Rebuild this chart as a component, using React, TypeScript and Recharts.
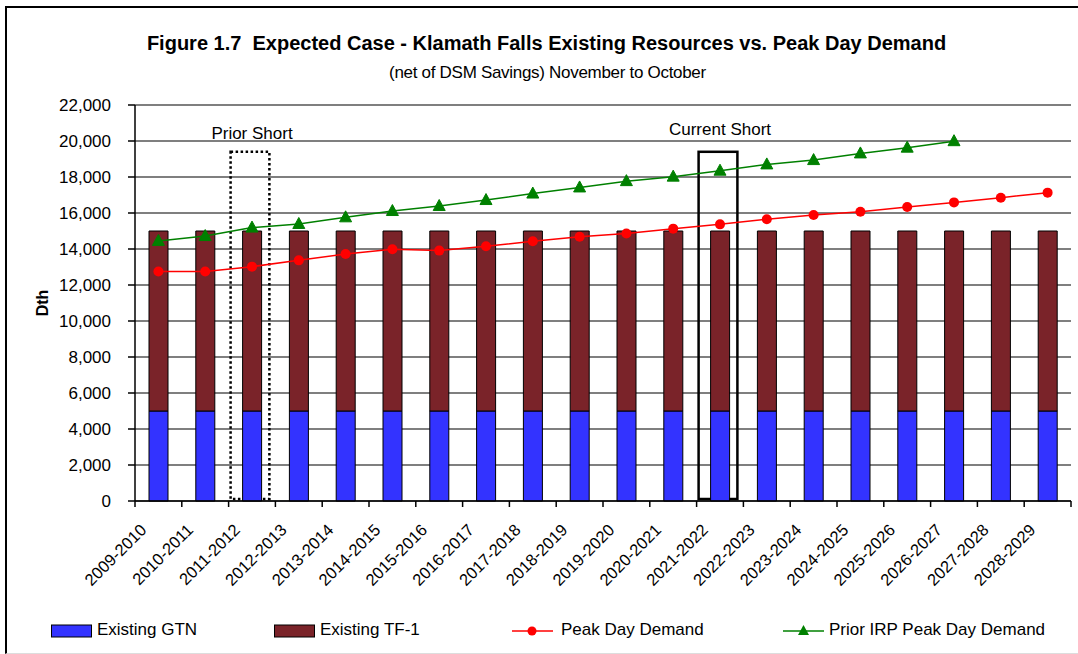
import React from 'react';
import {
  ComposedChart,
  Bar,
  Line,
  XAxis,
  YAxis,
  CartesianGrid,
  ReferenceArea,
  Label,
} from 'recharts';

const years = [
  '2009-2010', '2010-2011', '2011-2012', '2012-2013', '2013-2014',
  '2014-2015', '2015-2016', '2016-2017', '2017-2018', '2018-2019',
  '2019-2020', '2020-2021', '2021-2022', '2022-2023', '2023-2024',
  '2024-2025', '2025-2026', '2026-2027', '2027-2028', '2028-2029',
];

const existingGtn = [
  5000, 5000, 5000, 5000, 5000, 5000, 5000, 5000, 5000, 5000,
  5000, 5000, 5000, 5000, 5000, 5000, 5000, 5000, 5000, 5000,
];

const existingTf1 = [
  10000, 10000, 10000, 10000, 10000, 10000, 10000, 10000, 10000, 10000,
  10000, 10000, 10000, 10000, 10000, 10000, 10000, 10000, 10000, 10000,
];

const peakDayDemand = [
  12750, 12750, 13020, 13370, 13720, 13990, 13910, 14150, 14430, 14680,
  14860, 15130, 15370, 15650, 15890, 16070, 16330, 16590, 16850, 17130,
];

const priorIrpDemand = [
  14450, 14720, 15190, 15390, 15760, 16110, 16390, 16720, 17080, 17420,
  17770, 18020, 18350, 18700, 18940, 19310, 19630, 19990, null, null,
];

const yTicks = [0, 2000, 4000, 6000, 8000, 10000, 12000, 14000, 16000, 18000, 20000, 22000];

const priorShortYear = '2011-2012';
const currentShortYear = '2021-2022';
const shortBoxTop = 19400;

const data = years.map((year, i) => ({
  year,
  gtn: existingGtn[i],
  tf1: existingTf1[i],
  peak: peakDayDemand[i],
  prior: priorIrpDemand[i],
}));

const FONT = '"Liberation Sans", Arial, sans-serif';
const WIDTH = 1078;
const HEIGHT = 654;
const PLOT_LEFT = 135;
const PLOT_RIGHT = 1071;
const PLOT_TOP = 105;
const PLOT_BOTTOM = 501;
const STEP = (PLOT_RIGHT - PLOT_LEFT) / years.length;

const BLUE = '#3333FF';
const MAROON = '#7A2329';
const RED = '#FF0000';
const GREEN = '#008000';

const YearTick = (props: any) => {
  const { x, y, payload, index } = props;
  return (
    <g>
      <line x1={x - STEP / 2} y1={y} x2={x - STEP / 2} y2={y + 6} stroke="#000" strokeWidth={1.5} />
      {index === years.length - 1 && (
        <line x1={x + STEP / 2} y1={y} x2={x + STEP / 2} y2={y + 6} stroke="#000" strokeWidth={1.5} />
      )}
      <text
        x={x - 11}
        y={y + 30}
        textAnchor="end"
        transform={`rotate(-45, ${x - 11}, ${y + 30})`}
        fontSize={16.5}
        fontFamily={FONT}
        fill="#000"
      >
        {payload.value}
      </text>
    </g>
  );
};

const Triangle = (props: any) => {
  const { cx, cy, payload } = props;
  if (cx == null || cy == null || payload?.prior == null) return null;
  return (
    <polygon
      points={`${cx},${cy - 6.5} ${cx + 6},${cy + 4.5} ${cx - 6},${cy + 4.5}`}
      fill={GREEN}
      stroke={GREEN}
    />
  );
};

const ShortBox = (dashed: boolean) => (props: any) => {
  const { x, y, width, height } = props;
  return (
    <rect
      x={x + 2}
      y={y}
      width={width - 8}
      height={height - 2}
      fill="none"
      stroke="#000"
      strokeWidth={2.5}
      strokeDasharray={dashed ? '2.5 2.5' : undefined}
    />
  );
};

const DthLabel = (props: any) => {
  const { viewBox } = props;
  const cx = 42;
  const cy = viewBox.y + viewBox.height / 2;
  return (
    <text
      x={cx}
      y={cy}
      textAnchor="middle"
      dominantBaseline="central"
      transform={`rotate(-90, ${cx}, ${cy})`}
      fontSize={16}
      fontWeight="bold"
      fontFamily={FONT}
      fill="#000"
    >
      Dth
    </text>
  );
};

const legendItems = [
  { name: 'Existing GTN', kind: 'box', color: BLUE, left: 51, textLeft: 97 },
  { name: 'Existing TF-1', kind: 'box', color: MAROON, left: 274, textLeft: 320 },
  { name: 'Peak Day Demand', kind: 'dot', color: RED, left: 512, textLeft: 561 },
  { name: 'Prior IRP Peak Day Demand', kind: 'tri', color: GREEN, left: 783, textLeft: 829 },
];

const LegendIcon = ({ kind, color }: { kind: string; color: string }) => (
  <svg width={42} height={14} style={{ display: 'block' }}>
    {kind === 'box' && <rect x={0.5} y={1} width={40} height={12} fill={color} stroke="#000" strokeWidth={1} />}
    {kind !== 'box' && <line x1={0} y1={7} x2={41} y2={7} stroke={color} strokeWidth={1.5} />}
    {kind === 'dot' && <circle cx={20} cy={7} r={4.5} fill={color} />}
    {kind === 'tri' && <polygon points="20.5,1 26,11 15,11" fill={color} />}
  </svg>
);

const App: React.FC = () => {
  return (
    <div style={{ position: 'absolute', left: 0, top: 0, width: WIDTH, height: HEIGHT, background: '#fff', fontFamily: FONT, overflow: 'hidden' }}>
      {/* outer frame */}
      <div
        style={{
          position: 'absolute',
          left: 5,
          top: 6,
          width: WIDTH,
          height: 645,
          borderLeft: '2px solid #000',
          borderTop: '2px solid #000',
          borderBottom: '1px solid #ddd',
        }}
      />

      <div style={{ position: 'absolute', left: 0, width: 1093, top: 32, textAlign: 'center', fontSize: 20, fontWeight: 'bold', color: '#000', whiteSpace: 'pre' }}>
        {'Figure 1.7  Expected Case - Klamath Falls Existing Resources vs. Peak Day Demand'}
      </div>
      <div style={{ position: 'absolute', left: 0, width: 1095, top: 63, textAlign: 'center', fontSize: 17, color: '#000', letterSpacing: -0.3 }}>
        (net of DSM Savings) November to October
      </div>

      <div style={{ position: 'absolute', left: 0, top: 0 }}>
        <ComposedChart
          width={WIDTH}
          height={HEIGHT}
          data={data}
          margin={{ top: PLOT_TOP, right: WIDTH - PLOT_RIGHT, bottom: 0, left: 0 }}
          barSize={19}
        >
          <CartesianGrid vertical={false} stroke="#000" strokeWidth={1.2} />
          <XAxis
            dataKey="year"
            interval={0}
            height={HEIGHT - PLOT_BOTTOM}
            axisLine={{ stroke: '#000', strokeWidth: 1.5 }}
            tickLine={false}
            tickSize={0}
            tickMargin={0}
            tick={<YearTick />}
          />
          <YAxis
            width={PLOT_LEFT}
            domain={[0, 22000]}
            ticks={yTicks}
            interval={0}
            tickFormatter={(v: number) => v.toLocaleString('en-US')}
            axisLine={{ stroke: '#000', strokeWidth: 1.5 }}
            tickLine={{ stroke: '#000', strokeWidth: 1.5 }}
            tickSize={7}
            tickMargin={17}
            tick={{ fill: '#000', fontSize: 17, fontFamily: FONT }}
          >
            <Label content={<DthLabel />} />
          </YAxis>
          <YAxis
            yAxisId="frame"
            orientation="right"
            width={0}
            domain={[0, 22000]}
            tick={false}
            tickLine={false}
            axisLine={{ stroke: '#000', strokeWidth: 1.5 }}
          />
          <Bar dataKey="gtn" name="Existing GTN" stackId="res" fill={BLUE} stroke="#000" strokeWidth={1} isAnimationActive={false} />
          <Bar dataKey="tf1" name="Existing TF-1" stackId="res" fill={MAROON} stroke="#000" strokeWidth={1} isAnimationActive={false} />
          <Line
            type="linear"
            dataKey="peak"
            name="Peak Day Demand"
            stroke={RED}
            strokeWidth={1.5}
            dot={{ r: 5, fill: RED, stroke: RED, strokeWidth: 0 }}
            isAnimationActive={false}
          />
          <Line
            type="linear"
            dataKey="prior"
            name="Prior IRP Peak Day Demand"
            stroke={GREEN}
            strokeWidth={1.5}
            dot={<Triangle />}
            connectNulls={false}
            isAnimationActive={false}
          />
          <ReferenceArea
            x1={priorShortYear}
            x2={priorShortYear}
            y1={0}
            y2={shortBoxTop}
            shape={ShortBox(true)}
            label={{ value: 'Prior Short', position: 'top', offset: 13, fill: '#000', fontSize: 17, fontFamily: FONT }}
          />
          <ReferenceArea
            x1={currentShortYear}
            x2={currentShortYear}
            y1={0}
            y2={shortBoxTop}
            shape={ShortBox(false)}
            label={{ value: 'Current Short', position: 'top', offset: 17, fill: '#000', fontSize: 17, fontFamily: FONT }}
          />
        </ComposedChart>
      </div>

      {/* legend */}
      {legendItems.map((item) => (
        <React.Fragment key={item.name}>
          <div style={{ position: 'absolute', left: item.left, top: 624 }}>
            <LegendIcon kind={item.kind} color={item.color} />
          </div>
          <div style={{ position: 'absolute', left: item.textLeft, top: 620, fontSize: 17, color: '#000', whiteSpace: 'nowrap' }}>
            {item.name}
          </div>
        </React.Fragment>
      ))}
    </div>
  );
};

export default App;
